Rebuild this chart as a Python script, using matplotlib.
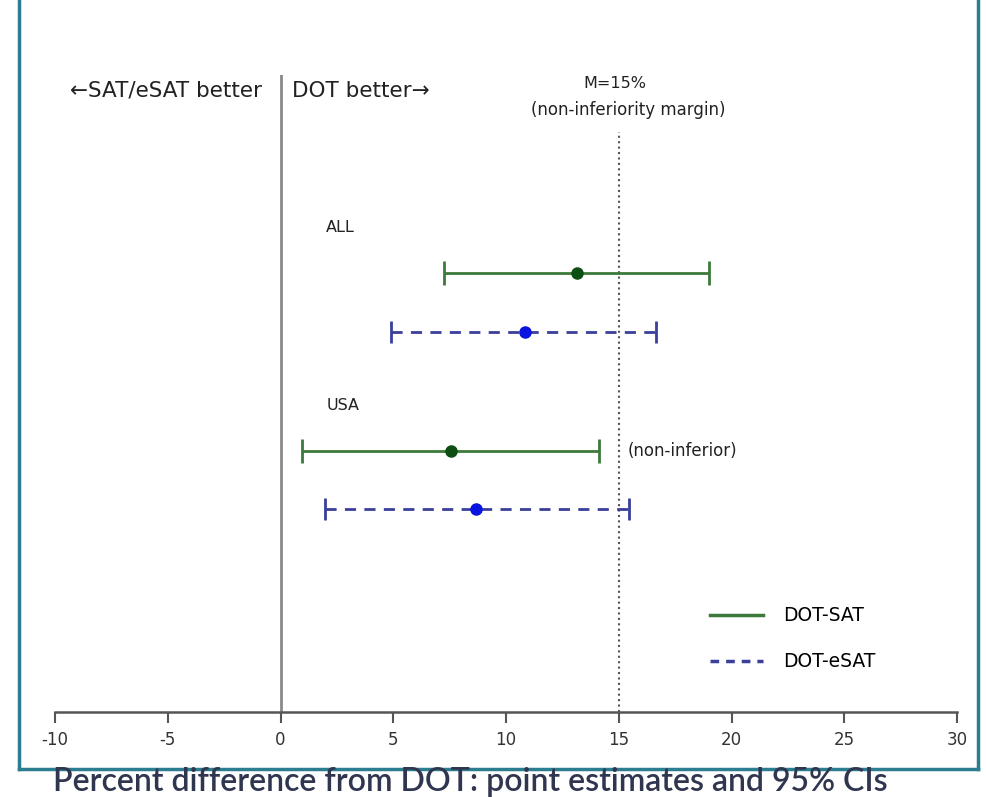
import matplotlib
matplotlib.use('Agg')
import matplotlib.pyplot as plt
from matplotlib.lines import Line2D

# point estimates and 95% CI limits (percent difference from DOT)
groups = ['ALL', 'USA']
sat_est = [13.15, 7.56]
sat_low = [7.25, 0.95]
sat_high = [19.0, 14.12]
esat_est = [10.84, 8.67]
esat_low = [4.9, 1.97]
esat_high = [16.65, 15.45]
margin = 15
xticks = [-10, -5, 0, 5, 10, 15, 20, 25, 30]

green_line = '#3b7a3b'
green_pt = '#0d4f12'
blue_line = '#3a3f9a'
blue_pt = '#0a14e0'
txt = '#222222'

fig = plt.figure(figsize=(9.86, 7.97), dpi=100)
ax = fig.add_axes([55/986, 85/797, 902/986, 637/797])
ax.set_xlim(-10, 30)
ax.set_ylim(0, 10)

# row layout: DOT-SAT on top, DOT-eSAT below, group label above
group_y = [6.89, 4.10]
gap = 0.92

for i, g in enumerate(groups):
    y = group_y[i]
    ax.errorbar(sat_est[i], y,
                xerr=[[sat_est[i] - sat_low[i]], [sat_high[i] - sat_est[i]]],
                fmt='o', color=green_pt, ms=8, ecolor=green_line,
                elinewidth=2, capsize=8.5, capthick=2, zorder=3)
    e2 = ax.errorbar(esat_est[i], y - gap,
                     xerr=[[esat_est[i] - esat_low[i]], [esat_high[i] - esat_est[i]]],
                     fmt='o', color=blue_pt, ms=8, ecolor=blue_line,
                     elinewidth=2, capsize=8, capthick=2, zorder=3)
    e2[2][0].set_linestyle((0, (4, 3)))
    ax.text(2.03, y + 0.71, g, fontsize=11.5, color=txt,
            ha='left', va='center')

# reference lines
ax.axvline(0, color='#8a8a8a', lw=2, zorder=1)
ax.axvline(margin, ymax=0.91, color='#555555', lw=1.5, ls=(0, (1, 1.6)), zorder=1)

ax.text(-0.82, 9.75, '\u2190SAT/eSAT better', fontsize=15.5,
        color=txt, ha='right', va='center')
ax.text(0.51, 9.75, 'DOT better\u2192', fontsize=15.5,
        color=txt, ha='left', va='center')
ax.text(14.83, 9.86, 'M=15%', fontsize=11.5, color=txt,
        ha='center', va='center')
ax.text(15.41, 9.45, '(non-inferiority margin)', fontsize=12, color=txt,
        ha='center', va='center')
ax.text(15.41, 4.10, '(non-inferior)', fontsize=12, color=txt,
        ha='left', va='center')

handles = [Line2D([], [], color=green_line, lw=2.5),
           Line2D([], [], color=blue_line, lw=2.5, ls=(0, (2.5, 2)))]
ax.legend(handles, ['DOT-SAT', 'DOT-eSAT'], frameon=False, loc='center',
          bbox_to_anchor=(0.818, 0.115), handlelength=2.8, labelspacing=1.45,
          handletextpad=1.1, prop={'size': 13.5})

# axes styling: only the bottom axis line
for s in ['top', 'right', 'left']:
    ax.spines[s].set_visible(False)
ax.spines['bottom'].set_color('#555555')
ax.spines['bottom'].set_linewidth(1.8)
ax.set_yticks([])
ax.set_xticks(xticks)
ax.set_xticklabels([str(t) for t in xticks])
ax.tick_params(axis='x', length=8, width=1.5, color='#555555',
               labelsize=12, labelcolor='#333333', pad=6)

# frame around the slide
frame = '#2b7d8f'
fig.add_artist(Line2D([19/986, 19/986], [28/797, 1], color=frame, lw=2.5))
fig.add_artist(Line2D([978/986, 978/986], [28/797, 1], color=frame, lw=2.5))
fig.add_artist(Line2D([19/986, 978/986], [28/797, 28/797], color=frame, lw=2.5))

fig.text(470/986, 15/797, 'Percent difference from DOT: point estimates and 95% CIs',
         fontsize=23, family=['Lato', 'DejaVu Sans'], fontweight='semibold',
         color='#303650', ha='center', va='center')

fig.savefig('out.png', dpi=100)
